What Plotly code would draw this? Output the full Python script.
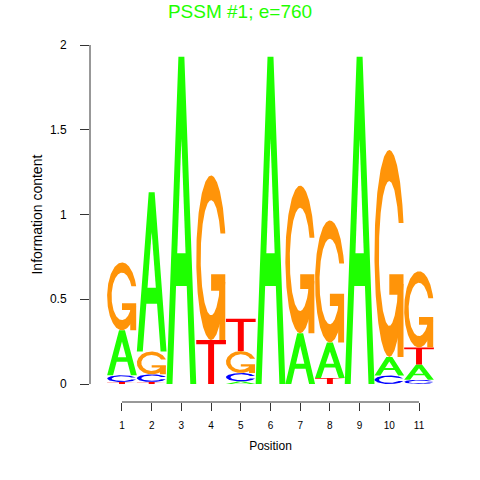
import math
import plotly.graph_objects as go

# information content per letter at each position (bits)
positions = [1, 2, 3, 4, 5, 6, 7, 8, 9, 10, 11]
bits_A = [0.265, 0.94, 1.93, 0.0, 0.015, 1.93, 0.30, 0.21, 1.93, 0.11, 0.09]
bits_C = [0.04, 0.045, 0.0, 0.0, 0.05, 0.0, 0.0, 0.0, 0.0, 0.05, 0.025]
bits_G = [0.40, 0.135, 0.0, 0.97, 0.13, 0.0, 0.87, 0.72, 0.0, 1.22, 0.45]
bits_T = [0.012, 0.012, 0.0, 0.26, 0.19, 0.0, 0.0, 0.035, 0.0, 0.0, 0.10]

letter_colors = {"A": "#1EFF00", "C": "#0000FF", "G": "#FF9409", "T": "#FF0000"}


def arc(r, a0, a1, n=60):
    pts = []
    for k in range(n):
        a = a0 + (a1 - a0) * k / (n - 1)
        pts.append((0.5 + r * math.sin(a), 0.5 + r * math.cos(a)))
    return pts


def glyph_c():
    # seqLogo style C outline in a unit box
    outer = arc(0.5, 0.3 + math.pi / 2, math.pi) + arc(0.5, math.pi, 1.5 * math.pi)
    top_y = outer[0][1]
    outer = outer + [(x, 1 - y) for x, y in reversed(outer)]
    inner1 = [p for p in arc(0.35, 0.3 + math.pi / 2, math.pi) if p[1] <= top_y]
    inner1[0] = (inner1[0][0], top_y)
    inner = inner1 + arc(0.35, math.pi, 1.5 * math.pi)
    inner = inner + [(x, 1 - y) for x, y in reversed(inner)]
    return [outer + list(reversed(inner))]


def glyph_g():
    polys = glyph_c()
    r1 = 0.5 + 0.5 * math.cos(0.3)
    h1 = 0.4
    bar = [(r1, h1), (0.5, h1), (0.5, h1 - 0.1), (r1 - 0.2, h1 - 0.1),
           (r1 - 0.2, 0), (r1, 0), (r1, h1)]
    return polys + [bar]


def glyph_a():
    xs = [0, 4, 6, 10, 8, 6.8, 3.2, 2, 0]
    ys = [0, 10, 10, 0, 0, 3, 3, 0, 0]
    return [[(x / 10, y / 10) for x, y in zip(xs, ys)]]


def glyph_a_hole():
    xs = [3.6, 5, 6.4, 3.6]
    ys = [4, 7.5, 4, 4]
    return [[(x / 10, y / 10) for x, y in zip(xs, ys)]]


def glyph_t():
    xs = [0, 10, 10, 6, 6, 4, 4, 0, 0]
    ys = [10, 10, 9, 9, 0, 0, 9, 9, 10]
    return [[(x / 10, y / 10) for x, y in zip(xs, ys)]]


glyphs = {"A": glyph_a, "C": glyph_c, "G": glyph_g, "T": glyph_t}

fig = go.Figure()


def add_poly(poly, pos, base, h, color):
    fig.add_trace(go.Scatter(
        x=[pos - 0.5 + px for px, py in poly],
        y=[base + h * py for px, py in poly],
        mode="lines", fill="toself", fillcolor=color,
        line=dict(width=0, color=color), hoverinfo="skip", showlegend=False))


for i, pos in enumerate(positions):
    col = [("A", bits_A[i]), ("C", bits_C[i]), ("G", bits_G[i]), ("T", bits_T[i])]
    col = sorted([c for c in col if c[1] > 0], key=lambda c: c[1])
    base = 0.0
    for letter, h in col:
        for poly in glyphs[letter]():
            add_poly(poly, pos, base, h, letter_colors[letter])
        if letter == "A":
            for poly in glyph_a_hole():
                add_poly(poly, pos, base, h, "white")
        base += h

font = "Liberation Sans, Arial, sans-serif"
fig.update_layout(
    width=480, height=480,
    margin=dict(l=90, r=29, t=45, b=78),
    paper_bgcolor="white", plot_bgcolor="white",
    font=dict(family=font, color="black"),
    hovermode=False,
    title=dict(text="PSSM #1; e=760", x=0.5, xanchor="center", y=1 - 11 / 480,
               yref="container", yanchor="middle",
               font=dict(size=19, color="#1EFF00")),
    xaxis=dict(range=[-0.077, 12.077], showgrid=False, zeroline=False, showline=False,
               tickvals=positions, ticktext=[str(p) for p in positions],
               ticks="outside", ticklen=8, tickcolor="#333", tickfont=dict(size=10),
               ticklabelstandoff=6,
               title=dict(text="Position", font=dict(size=12), standoff=11)),
    yaxis=dict(range=[-0.106, 2], showgrid=False, zeroline=False, showline=False,
               tickvals=[0, 0.5, 1, 1.5, 2], ticktext=["0", "0.5", "1", "1.5", "2"],
               ticks="outside", ticklen=9, tickcolor="#333", tickfont=dict(size=12),
               ticklabelstandoff=11),
    annotations=[
        dict(text="Information content", xref="paper", x=(37 - 90) / 361, yref="y", y=1,
             textangle=-90, showarrow=False, xanchor="center", yanchor="middle",
             font=dict(size=14)),
    ],
    shapes=[
        dict(type="line", xref="paper", x0=0, x1=0, yref="y", y0=0, y1=2,
             line=dict(color="#333", width=1)),
        dict(type="line", xref="x", x0=1, x1=11, yref="paper", y0=0, y1=0,
             line=dict(color="#333", width=1)),
    ],
)

fig.write_html("out.html", config={"displayModeBar": False},
               post_script="document.body.style.margin='0px';")
